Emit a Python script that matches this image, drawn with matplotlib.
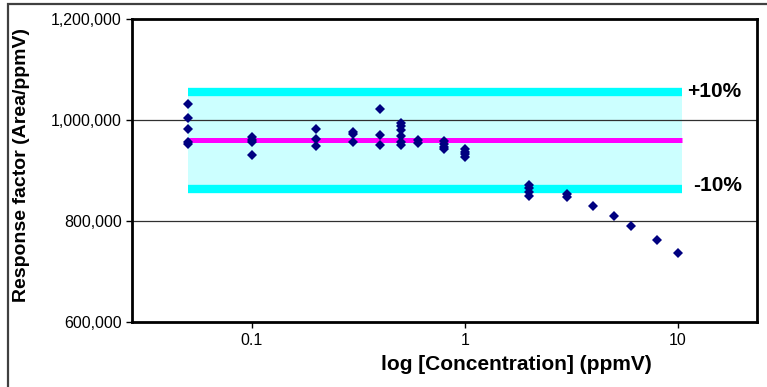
import matplotlib
matplotlib.use("Agg")
import matplotlib.pyplot as plt
from matplotlib.patches import Rectangle
from matplotlib.ticker import FuncFormatter, FixedLocator, NullLocator

plt.rcParams['font.family'] = ['Liberation Sans', 'DejaVu Sans']

# ---- data ----
conc_x = [0.05, 0.05, 0.05, 0.05, 0.05,
          0.1, 0.1, 0.1, 0.1,
          0.2, 0.2, 0.2,
          0.3, 0.3, 0.3,
          0.4, 0.4, 0.4,
          0.5, 0.5, 0.5, 0.5, 0.5, 0.5,
          0.6, 0.6,
          0.8, 0.8, 0.8, 0.8,
          1.0, 1.0, 1.0, 1.0,
          2.0, 2.0, 2.0, 2.0,
          3.0, 3.0,
          4.0, 5.0, 6.0, 8.0, 10.0]
resp_factor = [1032000, 1004000, 983000, 957000, 952000,
               966000, 961000, 957000, 931000,
               983000, 963000, 949000,
               977000, 972000, 957000,
               1021000, 970000, 950000,
               994000, 988000, 980000, 968000, 957000, 950000,
               960000, 955000,
               958000, 952000, 947000, 943000,
               943000, 937000, 933000, 926000,
               872000, 865000, 857000, 850000,
               853000, 848000,
               830000, 810000, 791000, 763000, 736000]

mean_rf = 960000
band_pct = 0.10
band_x = [0.05, 10.5]
band_labels = ['+10%', '-10%']
y_ticks = [600000, 800000, 1000000, 1200000]
x_ticks = [0.1, 1, 10]
x_ticklabels = ['0.1', '1', '10']
x_label = 'log [Concentration] (ppmV)'
y_label = 'Response factor (Area/ppmV)'

W, H = 767, 387
fig = plt.figure(figsize=(W / 100, H / 100), dpi=100)

# outer chart-area border (extends beyond right/bottom edges)
fig.patches.append(Rectangle((8 / W, -0.05), 1.2, 1 - 4 / H + 0.05,
                             transform=fig.transFigure, fill=False,
                             edgecolor='#404040', linewidth=1.6))

ax = fig.add_axes([132 / W, 1 - 322 / H, (757 - 132) / W, (322 - 19) / H])
ax.set_xscale('log')
ax.set_xlim(0.0274, 23.5)
ax.set_ylim(600000, 1200000)

upper = mean_rf * (1 + band_pct)
lower = mean_rf * (1 - band_pct)

ax.fill_between(band_x, [lower] * 2, [upper] * 2, color='#CCFFFF', zorder=1, linewidth=0)
for yv in [800000, 1000000]:
    ax.axhline(yv, color='#303030', linewidth=0.9, zorder=2)
ax.plot(band_x, [upper] * 2, color='#00FFFF', linewidth=6, solid_capstyle='butt', zorder=3)
ax.plot(band_x, [lower] * 2, color='#00FFFF', linewidth=6, solid_capstyle='butt', zorder=3)
ax.plot(band_x, [mean_rf] * 2, color='#FF00FF', linewidth=3.6, solid_capstyle='butt', zorder=3)

ax.plot(conc_x, resp_factor, linestyle='none', marker='D', markersize=5.4,
        color='#000080', markeredgewidth=0, zorder=4)

ax.text(11.0, upper, band_labels[0], ha='left', va='center',
        fontsize=15, fontweight='bold', zorder=5)
ax.text(11.8, lower + 6000, band_labels[1], ha='left', va='center',
        fontsize=15, fontweight='bold', zorder=5)

ax.xaxis.set_major_locator(FixedLocator(x_ticks))
ax.xaxis.set_minor_locator(NullLocator())
ax.set_xticklabels(x_ticklabels)
ax.set_yticks(y_ticks)
ax.yaxis.set_major_formatter(FuncFormatter(lambda v, p: f'{int(v):,}'))
ax.tick_params(axis='both', labelsize=11.5, direction='out', length=4, width=1,
               colors='black')
ax.tick_params(axis='x', pad=4)
for s in ax.spines.values():
    s.set_linewidth(2)
    s.set_color('black')

ax.set_xlabel(x_label, fontsize=15, fontweight='bold')
ax.xaxis.set_label_coords((516 - 132) / (757 - 132), -(355 - 322) / (322 - 19))
ax.set_ylabel(y_label, fontsize=14, fontweight='bold')
ax.yaxis.set_label_coords(-(132 - 30) / (757 - 132), (322 - 165) / (322 - 19))

fig.savefig('out.png', dpi=100)
